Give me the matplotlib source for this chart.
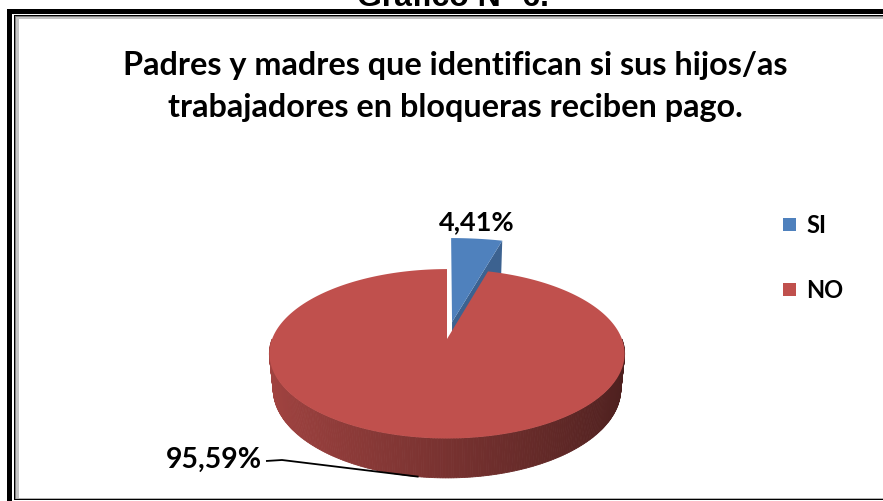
import numpy as np
import matplotlib
matplotlib.use("Agg")
import matplotlib.pyplot as plt
from matplotlib.patches import Polygon, Rectangle

# ---- data ----
categories = ["SI", "NO"]
percentages = [4.41, 95.59]
value_labels = ["4,41%", "95,59%"]
slice_colors = ["#4F81BD", "#C0504D"]
explode = [0.217, 0.0]
title_lines = ["Padres y madres que identifican si sus hijos/as",
               "trabajadores en bloqueras reciben pago."]
heading = "Gráfico N° 6."

W, H = 883, 502
fig = plt.figure(figsize=(W / 100, H / 100), dpi=100)
ax = fig.add_axes([0, 0, 1, 1])
ax.set_xlim(0, W)
ax.set_ylim(H, 0)
ax.axis("off")

FONT = "Lato"

# ---- frame ----
def band(x0, y0, x1, y1, color):
    ax.add_patch(Rectangle((x0, y0), x1 - x0, y1 - y0, facecolor=color,
                           edgecolor="none", antialiased=False, zorder=1))

# thick outer rule, thin inner rule, soft grey shadow
band(7, 10, 12, H + 10, "black"); band(7, 10, W + 10, 15, "black")
band(14, 16, 15, 501, "black"); band(14, 16, W + 10, 17, "black")
band(14, 500, W + 10, 501, "black")
band(15, 17, 16, 500, "#7f7f7f"); band(15, 17, W + 10, 18, "#7f7f7f")
band(16, 18, 19, 499, "#c4c4c4"); band(16, 18, W + 10, 20, "#c4c4c4")
band(16, 498.5, W + 10, 499.5, "#b0b0b0")

# heading above the frame
ax.text(453, 5.5, heading, ha="center", va="baseline", fontsize=23,
        fontweight="bold", family="Liberation Sans", zorder=5)

# ---- title ----
ax.text(455, 66, title_lines[0], ha="center", va="center", fontsize=23.3,
        fontweight="bold", family=FONT, zorder=5)
ax.text(455, 108, title_lines[1], ha="center", va="center", fontsize=23.3,
        fontweight="bold", family=FONT, zorder=5)

# ---- 3-D pie in perspective ----
CX, CY = 447, 340
FOCAL, DIST, TILT = 885.0, 5.06, np.radians(28)
THICK = 0.23
EXPLODED_SCALE = 1.35


def project(X, Z, Y):
    X = np.asarray(X, float)
    Z = np.asarray(Z, float)
    Y = np.asarray(Y, float)
    yv = Y * np.cos(TILT) + Z * np.sin(TILT)
    zv = -Y * np.sin(TILT) + Z * np.cos(TILT)
    s = FOCAL / (DIST + zv)
    return CX + X * s, CY - yv * s


def shade(color, k):
    rgb = np.array(matplotlib.colors.to_rgb(color))
    return tuple(np.clip(rgb * k, 0, 1))


fractions = np.array(percentages) / sum(percentages)
start = 90.0
slices = []
for frac, col, ex in zip(fractions, slice_colors, explode):
    end = start - 360 * frac
    mid = np.radians((start + end) / 2)
    ox, oz = ex * np.cos(mid), ex * np.sin(mid)
    r = EXPLODED_SCALE if ex > 0 else 1.0
    slices.append(dict(start=start, end=end, mid=mid, ox=ox, oz=oz, r=r, color=col))
    start = end


def top_face(s, n=200):
    t = np.radians(np.linspace(s["start"], s["end"], n))
    X = np.concatenate([[s["ox"]], s["ox"] + s["r"] * np.cos(t)])
    Z = np.concatenate([[s["oz"]], s["oz"] + s["r"] * np.sin(t)])
    px, py = project(X, Z, np.zeros_like(X))
    return np.column_stack([px, py])


def radial_face(s, ang):
    a = np.radians(ang)
    X = np.array([s["ox"], s["ox"] + s["r"] * np.cos(a)] * 2)
    Z = np.array([s["oz"], s["oz"] + s["r"] * np.sin(a)] * 2)
    Y = np.array([0, 0, -THICK * s["r"], -THICK * s["r"]])
    px, py = project(X, Z, Y)
    pts = np.column_stack([px, py])
    return pts[[0, 1, 3, 2]]


# exploded slice sits behind: its visible cut face, then its top
for s in slices:
    if s["r"] != 1.0:
        ax.add_patch(Polygon(radial_face(s, s["end"]), closed=True,
                             facecolor=shade(s["color"], 0.76), edgecolor="none", zorder=2))
        ax.add_patch(Polygon(top_face(s), closed=True, facecolor=s["color"],
                             edgecolor="none", zorder=3))

# main slice: front outer wall with shading, then top face
for s in slices:
    if s["r"] != 1.0:
        continue
    lo, hi = max(s["end"], -180.0), min(s["start"], 0.0)
    angs = np.linspace(lo, hi, 240)
    for a0, a1 in zip(angs[:-1], angs[1:]):
        t = np.radians([a0, a1, a1, a0])
        Y = np.array([0, 0, -THICK, -THICK])
        px, py = project(np.cos(t), np.sin(t), Y)
        k = 0.625 - 0.225 * np.cos(np.radians((a0 + a1) / 2))
        c = shade(s["color"], k)
        ax.add_patch(Polygon(np.column_stack([px, py]), closed=True,
                             facecolor=c, edgecolor=c, linewidth=0.6, zorder=4))
    ax.add_patch(Polygon(top_face(s, 400), closed=True, facecolor=s["color"],
                         edgecolor="none", zorder=5))

# ---- value labels ----
for s, lab in zip(slices, value_labels):
    if s["r"] != 1.0:
        mx = s["ox"] + s["r"] * np.cos(s["mid"])
        mz = s["oz"] + s["r"] * np.sin(s["mid"])
        px, py = project(mx, mz, 0.0)
        ax.text(px, py - 18, lab, ha="center", va="center", fontsize=19.5,
                fontweight="bold", family=FONT, zorder=6)
    else:
        ax.text(262, 460, lab, ha="right", va="center", fontsize=20.5,
                fontweight="bold", family=FONT, zorder=6)
        bx, by = project(np.cos(s["mid"]), np.sin(s["mid"]), -THICK)
        ax.plot([266, 282, bx], [462, 461, by], color="black", lw=1.3,
                solid_capstyle="butt", zorder=6)

# ---- legend ----
leg_y = [226, 291]
for cat, col, yy in zip(categories, slice_colors, leg_y):
    ax.add_patch(Rectangle((783, yy - 7), 13, 13, facecolor=col, edgecolor="none", zorder=6))
    ax.text(806, yy, cat, ha="left", va="center", fontsize=17,
            fontweight="bold", family=FONT, zorder=6)

fig.savefig("out.png", dpi=100)
